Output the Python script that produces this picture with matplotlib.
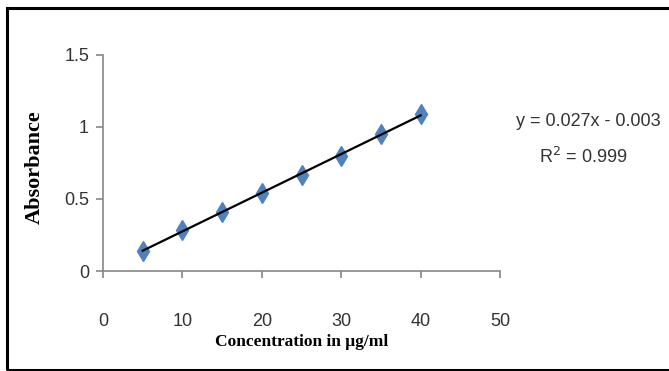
import numpy as np
import matplotlib
matplotlib.use("Agg")
from matplotlib import pyplot as plt
from matplotlib.patches import Rectangle

# data
conc = [5, 10, 15, 20, 25, 30, 35, 40]
absorb = [0.14, 0.285, 0.41, 0.54, 0.67, 0.80, 0.95, 1.09]
xticks = [0, 10, 20, 30, 40, 50]
yticks = [0, 0.5, 1, 1.5]
ytick_labels = ["0", "0.5", "1", "1.5"]

sans = ["Liberation Sans", "DejaVu Sans"]
serif = ["Liberation Serif", "DejaVu Serif"]

fig = plt.figure(figsize=(6.69, 3.71), dpi=100)
ax = fig.add_axes([103 / 669, 1 - 271 / 371, 397 / 669, 216 / 371])

# linear fit for trendline
m, b = np.polyfit(conc, absorb, 1)
xs = np.array([conc[0], conc[-1]])
ax.plot(conc, absorb, linestyle="none", marker="d", markersize=10.5,
        color="#4F81BD", markeredgecolor="#4F81BD", zorder=2)
ax.plot(xs, m * xs + b, color="black", lw=1.6, zorder=3)

ax.set_xlim(0, 50)
ax.set_ylim(0, 1.5)
ax.set_xticks(xticks)
ax.set_yticks(yticks)
ax.set_yticklabels(ytick_labels)
for s in ["top", "right"]:
    ax.spines[s].set_visible(False)
for s in ["left", "bottom"]:
    ax.spines[s].set_color("#868686")
    ax.spines[s].set_linewidth(1.2)
ax.tick_params(axis="both", colors="#868686", length=5, width=1.2,
               labelcolor="#333333", labelsize=13)
ax.tick_params(axis="x", pad=25)
ax.tick_params(axis="y", pad=5)
for lab in ax.get_xticklabels() + ax.get_yticklabels():
    lab.set_family(sans)

fig.text(35 / 669, 1 - 167 / 371, "Absorbance", rotation=90, ha="center",
         va="center", family=serif, fontweight="bold", fontsize=16)
fig.text(302 / 669, 1 - 342 / 371, "Concentration in \u03bcg/ml", ha="center",
         va="center", family=serif, fontweight="bold", fontsize=12.5)

fig.text(588 / 669, 1 - 121 / 371, "y = 0.027x - 0.003", ha="center",
         va="center", family=sans, fontsize=13, color="#333333")
fig.text(583 / 669, 1 - 157 / 371, "R$^2$ = 0.999", ha="center",
         va="center", family=sans, fontsize=13, color="#333333")

# outer frame (right side runs off the image)
fig.patches.append(Rectangle((7 / 669, 1 - 369.5 / 371), 1.1, 362 / 371,
                             transform=fig.transFigure, fill=False,
                             edgecolor="black", lw=2.2))

fig.savefig("out.png", dpi=100)
